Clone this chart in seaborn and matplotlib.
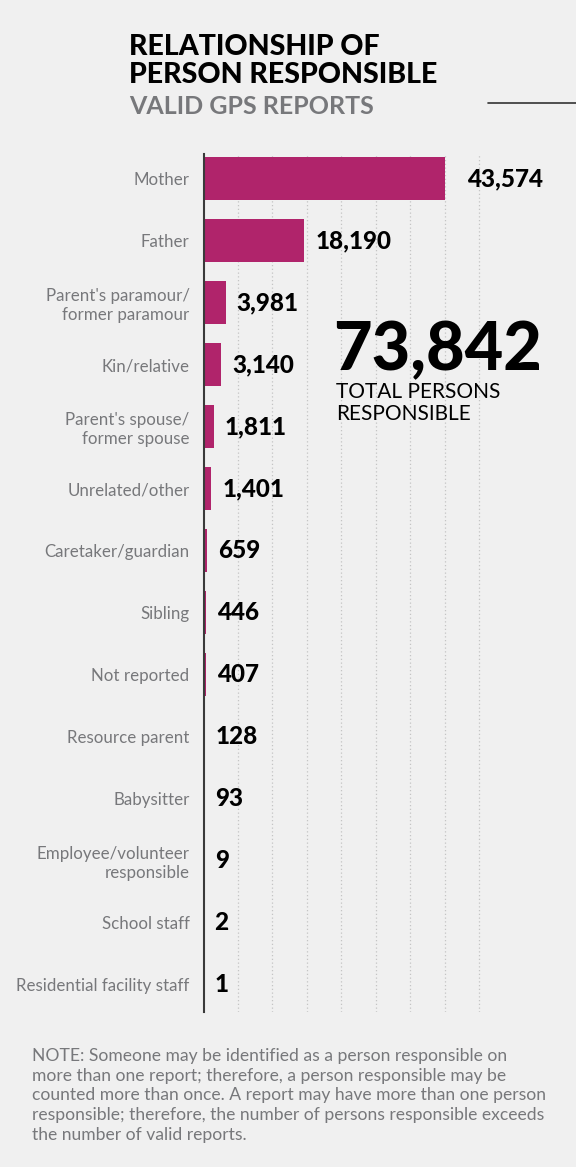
import matplotlib.pyplot as plt
import seaborn as sns
import pandas as pd

categories = [
    "Mother", "Father", "Parent's paramour/\nformer paramour", "Kin/relative",
    "Parent's spouse/\nformer spouse", "Unrelated/other", "Caretaker/guardian",
    "Sibling", "Not reported", "Resource parent", "Babysitter",
    "Employee/volunteer\nresponsible", "School staff", "Residential facility staff",
]
counts = [43574, 18190, 3981, 3140, 1811, 1401, 659, 446, 407, 128, 93, 9, 2, 1]
total = 73842
grid_step = 6225

BG = "#f0f0f0"
BAR = "#b0246b"
GRAY = "#77787b"

sns.set_theme(style="white")
plt.rcParams["font.family"] = ["Lato", "DejaVu Sans"]

W, H = 576, 1167
fig = plt.figure(figsize=(W / 100, H / 100), dpi=100, facecolor=BG)

# axes placed in pixel coords
left, right, top, bottom = 203.5, 576, 154, 1012
ax = fig.add_axes([left / W, 1 - bottom / H, (right - left) / W, (bottom - top) / H])
ax.set_facecolor(BG)

df = pd.DataFrame({"cat": categories, "n": counts})
sns.barplot(data=df, x="n", y="cat", color=BAR, width=0.69, saturation=1,
            linewidth=0, ax=ax)

ax.set_xlim(0, (right - left) / 0.005542)
ax.set_ylim(13.44, -0.395)
ax.set_xlabel("")
ax.set_ylabel("")
ax.set_xticks([grid_step * k for k in range(1, 9)])
ax.set_xticklabels([])
ax.tick_params(axis="x", length=0)
ax.tick_params(axis="y", length=0, pad=10, labelsize=12.2, labelcolor=GRAY)
for lbl in ax.get_yticklabels():
    lbl.set_linespacing(1.25)
ax.grid(axis="x", color="#c4c4c4", linestyle=(0, (1, 2)), linewidth=0.9)
ax.set_axisbelow(True)
for s in ["top", "right", "bottom"]:
    ax.spines[s].set_visible(False)
ax.spines["left"].set_color("#3a3a3a")
ax.spines["left"].set_linewidth(1.5)

for i, v in enumerate(counts):
    ax.annotate(f"{v:,}", (v, i), xytext=(16 if i == 0 else 8, 0), textcoords="offset points",
                va="center", ha="left", fontsize=17.5, fontweight="black", color="black")

# title block
fig.text(129 / W, 1 - 34 / H, "RELATIONSHIP OF\nPERSON RESPONSIBLE", ha="left", va="top",
         fontsize=20.5, fontweight="black", color="black", linespacing=1.08)
fig.text(129 / W, 1 - 95 / H, "VALID GPS REPORTS", ha="left", va="top",
         fontsize=18, fontweight="bold", color=GRAY)
fig.add_artist(plt.Line2D([488 / W, 1], [1 - 103 / H] * 2, color="#333333", linewidth=1.2))

# total callout
fig.text(333 / W, 1 - 370 / H, f"{total:,}", ha="left", va="baseline",
         fontsize=48, fontweight="black", color="black")
fig.text(336 / W, 1 - 382 / H, "TOTAL PERSONS\nRESPONSIBLE", ha="left", va="top",
         fontsize=15, color="black", linespacing=1.1)

note = ("NOTE: Someone may be identified as a person responsible on\n"
        "more than one report; therefore, a person responsible may be\n"
        "counted more than once. A report may have more than one person\n"
        "responsible; therefore, the number of persons responsible exceeds\n"
        "the number of valid reports.")
fig.text(32 / W, 1 - 1048 / H, note, ha="left", va="top", fontsize=12.6,
         color=GRAY, linespacing=1.28)

fig.savefig("out.png", dpi=100, facecolor=BG)
